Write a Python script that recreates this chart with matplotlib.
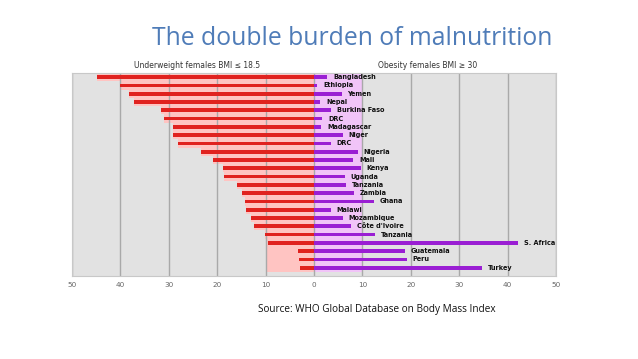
import numpy as np
import matplotlib
matplotlib.use("Agg")
import matplotlib.pyplot as plt

countries = ["Bangladesh", "Ethiopia", "Yemen", "Nepal", "Burkina Faso", "DRC",
             "Madagascar", "Niger", "DRC", "Nigeria", "Mali", "Kenya", "Uganda",
             "Tanzania", "Zambia", "Ghana", "Malawi", "Mozambique", "Côte d'Ivoire",
             "Tanzania", "S. Africa", "Guatemala", "Peru", "Turkey"]
underweight = [44.8, 40.1, 38.3, 37.2, 31.7, 30.9, 29.1, 29.1, 28.2, 23.3, 20.8, 18.9,
               18.5, 15.9, 14.8, 14.2, 14.1, 13.1, 12.5, 10.2, 9.5, 3.4, 3.2, 2.9]
obesity = [2.7, 0.7, 5.7, 1.3, 3.5, 1.7, 1.5, 5.9, 3.5, 9.0, 8.1, 9.7,
           6.3, 6.6, 8.3, 12.3, 3.5, 6.0, 7.7, 12.7, 42.2, 18.8, 19.2, 34.8]
ticks = [-50, -40, -30, -20, -10, 0, 10, 20, 30, 40, 50]

red = "#e0221f"
pink = "#ffc4c2"
violet = "#9a1fd3"
lilac = "#f1c4f8"

fig = plt.figure(figsize=(6.38, 3.59), dpi=100)
ax = fig.add_axes([0.1129, 0.2312, 0.7586, 0.5655])
ax.set_facecolor("#e2e2e2")

y = np.arange(len(countries))
uw = np.array(underweight)
ob = np.array(obesity)

# pale bands behind the bars
ax.barh(y, -np.maximum(uw, 10), height=1.0, color=pink, zorder=1)
ax.barh(y, np.full(len(y), 10), height=1.0, color=lilac, zorder=1)

for t in ticks:
    ax.axvline(t, color="#a9a9a9", lw=1.0, zorder=2)

ax.barh(y, -uw, height=0.45, color=red, zorder=3)
ax.barh(y, ob, height=0.45, color=violet, zorder=3)

for yi, v, name in zip(y, ob, countries):
    ax.text(v + 1.2, yi, name, fontsize=4.7, fontweight="bold", va="center",
            ha="left", color="#111111", zorder=4)

ax.set_xlim(-50, 50)
ax.set_ylim(24.0, -0.5)
ax.set_yticks([])
ax.set_xticks(ticks)
ax.set_xticklabels([str(abs(t)) for t in ticks], fontsize=5.2, color="#666666")
ax.tick_params(axis="x", length=0, pad=4)
for s in ax.spines.values():
    s.set_color("#c8c8c8")
    s.set_linewidth(0.8)

fig.text(0.309, 0.818, "Underweight females BMI \u2264 18.5", fontsize=5.5,
         ha="center", va="center", color="#333333")
fig.text(0.671, 0.818, "Obesity females BMI \u2265 30", fontsize=5.5,
         ha="center", va="center", color="#333333")

fig.text(0.552, 0.893, "The double burden of malnutrition", fontsize=17.8,
         ha="center", va="center", color="#4f7cb8", family="Open Sans")
fig.text(0.590, 0.139, "Source: WHO Global Database on Body Mass Index", fontsize=7.2,
         ha="center", va="center", color="#111111", family="Open Sans")

fig.savefig("out.png", dpi=100)
